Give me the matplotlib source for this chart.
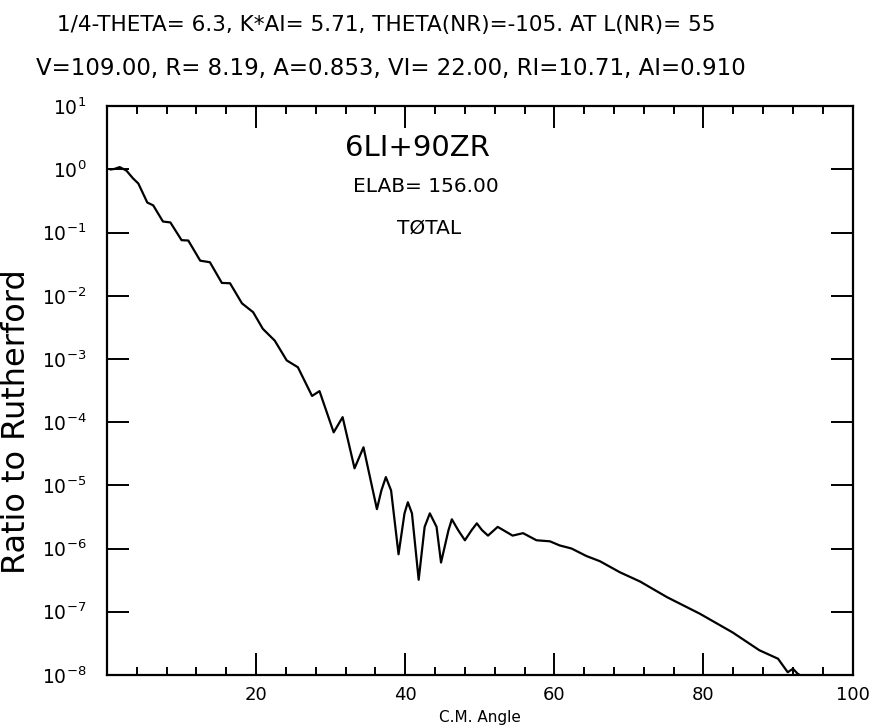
import numpy as np
import matplotlib
matplotlib.use('Agg')
import matplotlib.pyplot as plt
from matplotlib.ticker import FixedLocator, LogLocator, NullFormatter

plt.rcParams['font.family'] = 'DejaVu Sans'
plt.rcParams['mathtext.default'] = 'regular'

# total cross section relative to Rutherford, 6Li + 90Zr at 156 MeV
cm_angle = [0.5, 1.0, 1.7, 2.6, 3.5, 4.2, 5.4, 6.2, 7.5, 8.5,
            10.0, 10.9, 12.5, 13.8, 15.4, 16.5, 18.1, 19.6, 20.9, 22.5,
            24.1, 25.6, 27.5, 28.5, 30.4, 31.6, 33.2, 34.4, 36.2, 36.8,
            37.4, 38.1, 39.1, 39.9, 40.35, 40.9, 41.8, 42.6, 43.3, 44.2,
            44.8, 45.8, 46.25, 47.1, 48.0, 48.9, 49.6, 50.3, 51.1, 52.4,
            54.4, 55.8, 57.6, 59.4, 60.7, 62.3, 64.3, 66.1, 68.8, 71.5,
            75.1, 79.5, 83.9, 87.5, 90.0, 91.3, 92.0, 92.6, 93.2]
ratio = [1.0, 1.02, 1.09, 0.96, 0.72, 0.60, 0.30, 0.27, 0.15, 0.145,
         0.076, 0.075, 0.036, 0.034, 0.016, 0.0158, 7.6e-3, 5.5e-3, 3.0e-3, 1.95e-3,
         9.5e-4, 7.4e-4, 2.6e-4, 3.1e-4, 6.9e-5, 1.2e-4, 1.86e-5, 4.0e-5, 4.2e-6, 8.3e-6,
         1.35e-5, 8.3e-6, 8.1e-7, 3.6e-6, 5.4e-6, 3.6e-6, 3.2e-7, 2.2e-6, 3.6e-6, 2.2e-6,
         6.0e-7, 1.95e-6, 2.9e-6, 1.95e-6, 1.35e-6, 1.95e-6, 2.5e-6, 1.95e-6, 1.6e-6, 2.2e-6,
         1.6e-6, 1.75e-6, 1.35e-6, 1.3e-6, 1.12e-6, 1.0e-6, 7.6e-7, 6.3e-7, 4.2e-7, 3.0e-7,
         1.7e-7, 9.3e-8, 4.7e-8, 2.45e-8, 1.8e-8, 1.1e-8, 1.25e-8, 1.05e-8, 0.95e-8]

x_major = [20, 40, 60, 80, 100]
x_minor = list(range(4, 100, 4))
y_decades = [1e-8, 1e-7, 1e-6, 1e-5, 1e-4, 1e-3, 1e-2, 1e-1, 1e0, 1e1]
y_ticklabels = ['$10^{%d}$' % p for p in range(-8, 2)]

header1 = '1/4-THETA= 6.3, K*AI= 5.71, THETA(NR)=-105. AT L(NR)= 55'
header2 = 'V=109.00, R= 8.19, A=0.853, VI= 22.00, RI=10.71, AI=0.910'
reaction = '6LI+90ZR'
energy = 'ELAB= 156.00'
kind = 'TØTAL'

fig = plt.figure(figsize=(8.7, 7.28), dpi=100)
ax = fig.add_axes([0.123, 0.073, 0.857, 0.781])

ax.plot(cm_angle, ratio, color='black', lw=1.6)

ax.set_yscale('log')
ax.set_xlim(0, 100)
ax.set_ylim(1e-8, 1e1)

ax.xaxis.set_major_locator(FixedLocator(x_major))
ax.xaxis.set_minor_locator(FixedLocator(x_minor))
ax.set_xticklabels([str(v) for v in x_major])
ax.yaxis.set_major_locator(FixedLocator(y_decades))
ax.set_yticklabels(y_ticklabels)
ax.yaxis.set_minor_locator(LogLocator(base=10, subs=(2.0, 5.0)))
ax.yaxis.set_minor_formatter(NullFormatter())

ax.tick_params(which='both', direction='in', top=True, right=True, width=1.4)
ax.tick_params(which='major', length=16)
ax.tick_params(which='minor', length=6)
ax.tick_params(axis='y', which='major', pad=15, labelsize=13.5)
ax.tick_params(axis='x', which='major', pad=8, labelsize=13)
for s in ax.spines.values():
    s.set_linewidth(1.6)

ax.set_xlabel('C.M. Angle', fontsize=11, labelpad=4)
ax.set_ylabel('Ratio to Rutherford', fontsize=23)
ax.yaxis.set_label_coords(-0.1005, 0.445)

fig.text(386 / 870, 1 - 25 / 728, header1, ha='center', va='center', fontsize=15.5)
fig.text(391 / 870, 1 - 68 / 728, header2, ha='center', va='center', fontsize=16.5)

fig.text(417 / 870, 1 - 148 / 728, reaction, ha='center', va='center', fontsize=21)
fig.text(426 / 870, 1 - 186 / 728, energy, ha='center', va='center', fontsize=14.5)
fig.text(429 / 870, 1 - 228 / 728, kind, ha='center', va='center', fontsize=14.5)

fig.savefig('out.png', dpi=100)
